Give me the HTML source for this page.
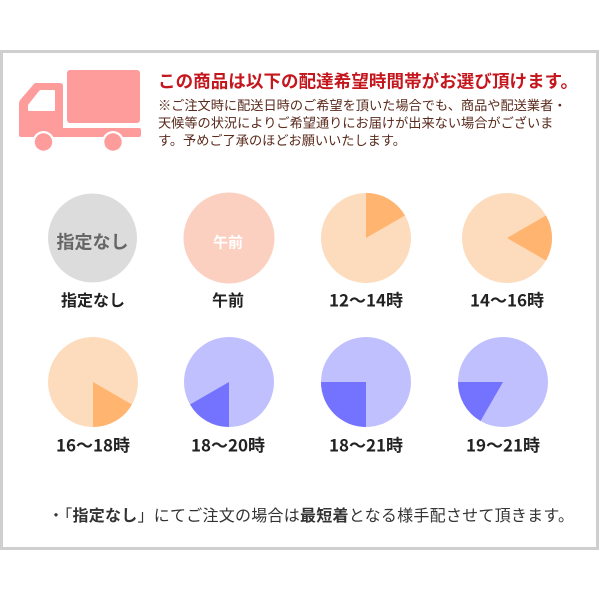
<!DOCTYPE html>
<html>
<head>
<meta charset="utf-8">
<style>
html,body{margin:0;padding:0;background:#fff;width:600px;height:600px;overflow:hidden;}
svg{display:block;}
text{font-family:"Liberation Sans","Noto Sans CJK JP",sans-serif;}
text.lbl{font-family:"Noto Sans CJK JP","Liberation Sans",sans-serif;}
</style>
</head>
<body>
<svg width="600" height="600" viewBox="0 0 600 600" xmlns="http://www.w3.org/2000/svg">
  <rect x="0" y="0" width="600" height="600" fill="#fff"/>
  <!-- frame -->
  <rect x="1.5" y="51.5" width="596" height="497" fill="#fff" stroke="#cfcfcf" stroke-width="3"/>

  <!-- truck -->
  <g fill="#fe9b9b">
    <rect x="67" y="70" width="73" height="53" rx="3"/>
    <path d="M36,83 L60,83 Q63,83 63,86 L63,128 L139,128 Q141,128 141,130.5 L141,134.5 Q141,137 139,137 L21,137 Q19,137 19,135 L19,104 Q19,101 21,99 L33,85 Q34.5,83 36,83 Z"/>
  </g>
  <path d="M41,90 L54,90 Q55,90 55,91 L55,110 Q55,111 54,111 L29,111 Q28,111 28,110 L28,105 L39,91 Q40,90 41,90 Z" fill="#fff"/>
  <circle cx="43.5" cy="142" r="11" fill="#fff"/>
  <circle cx="43.5" cy="142" r="8.7" fill="#fe9b9b"/>
  <circle cx="113" cy="142" r="11" fill="#fff"/>
  <circle cx="113" cy="142" r="8.7" fill="#fe9b9b"/>

  <!-- header text -->
  <text x="158" y="87.6" font-size="17.5" font-weight="bold" fill="#c4161c" textLength="420" lengthAdjust="spacing">この商品は以下の配達希望時間帯がお選び頂けます。</text>
  <text x="158" y="110" font-size="13.2" fill="#5a2a1c">※ご注文時に配送日時のご希望を頂いた場合でも、商品や配送業者・</text>
  <text x="158" y="127.5" font-size="13.2" fill="#5a2a1c">天候等の状況によりご希望通りにお届けが出来ない場合がございま</text>
  <text x="158" y="145" font-size="13.2" fill="#5a2a1c">す。予めご了承のほどお願いいたします。</text>

  <!-- row 1 circles -->
  <circle cx="92.5" cy="238" r="44.5" fill="#dcdcdc"/>
  <text x="92.5" y="248.5" font-size="18" font-weight="bold" fill="#666" text-anchor="middle">指定なし</text>

  <circle cx="229" cy="238" r="45.5" fill="#fcd0c0"/>
  <text x="228" y="247.5" font-size="15" font-weight="bold" fill="#fff" text-anchor="middle">午前</text>

  <circle cx="366" cy="238" r="45" fill="#fddcbd"/>
  <path d="M366,238 L366,193 A45,45 0 0 1 404.97,215.5 Z" fill="#ffb470"/>

  <circle cx="507" cy="238" r="45" fill="#fddcbd"/>
  <path d="M507,238 L545.97,215.5 A45,45 0 0 1 545.97,260.5 Z" fill="#ffb470"/>

  <!-- row 1 labels -->
  <text x="93" y="306" font-size="16" font-weight="bold" fill="#222" text-anchor="middle">指定なし</text>
  <text x="228" y="306" font-size="16" font-weight="bold" fill="#222" text-anchor="middle">午前</text>
  <text class="lbl" x="366" y="306.5" font-size="17" font-weight="bold" fill="#222" text-anchor="middle" textLength="74" lengthAdjust="spacing">12〜14時</text>
  <text class="lbl" x="507" y="306.5" font-size="17" font-weight="bold" fill="#222" text-anchor="middle" textLength="74" lengthAdjust="spacing">14〜16時</text>

  <!-- row 2 circles -->
  <circle cx="93" cy="382" r="45" fill="#fddcbd"/>
  <path d="M93,382 L131.97,404.5 A45,45 0 0 1 93,427 Z" fill="#ffb470"/>

  <circle cx="229" cy="382" r="45" fill="#c0c0ff"/>
  <path d="M229,382 L229,427 A45,45 0 0 1 190.03,404.5 Z" fill="#7373ff"/>

  <circle cx="366" cy="382" r="45" fill="#c0c0ff"/>
  <path d="M366,382 L366,427 A45,45 0 0 1 321,382 Z" fill="#7373ff"/>

  <circle cx="503" cy="382" r="45" fill="#c0c0ff"/>
  <path d="M503,382 L480.5,420.97 A45,45 0 0 1 458,382 Z" fill="#7373ff"/>

  <!-- row 2 labels -->
  <text class="lbl" x="93" y="451.5" font-size="17" font-weight="bold" fill="#222" text-anchor="middle" textLength="74" lengthAdjust="spacing">16〜18時</text>
  <text class="lbl" x="228" y="451.5" font-size="17" font-weight="bold" fill="#222" text-anchor="middle" textLength="74" lengthAdjust="spacing">18〜20時</text>
  <text class="lbl" x="366" y="451.5" font-size="17" font-weight="bold" fill="#222" text-anchor="middle" textLength="74" lengthAdjust="spacing">18〜21時</text>
  <text class="lbl" x="503" y="451.5" font-size="17" font-weight="bold" fill="#222" text-anchor="middle" textLength="74" lengthAdjust="spacing">19〜21時</text>

  <!-- bottom note -->
  <text x="48" y="521" font-size="16" fill="#333" textLength="526" lengthAdjust="spacing">・「<tspan font-weight="bold">指定なし</tspan>」にてご注文の場合は<tspan font-weight="bold">最短着</tspan>となる様手配させて頂きます。</text>
</svg>
</body>
</html>
